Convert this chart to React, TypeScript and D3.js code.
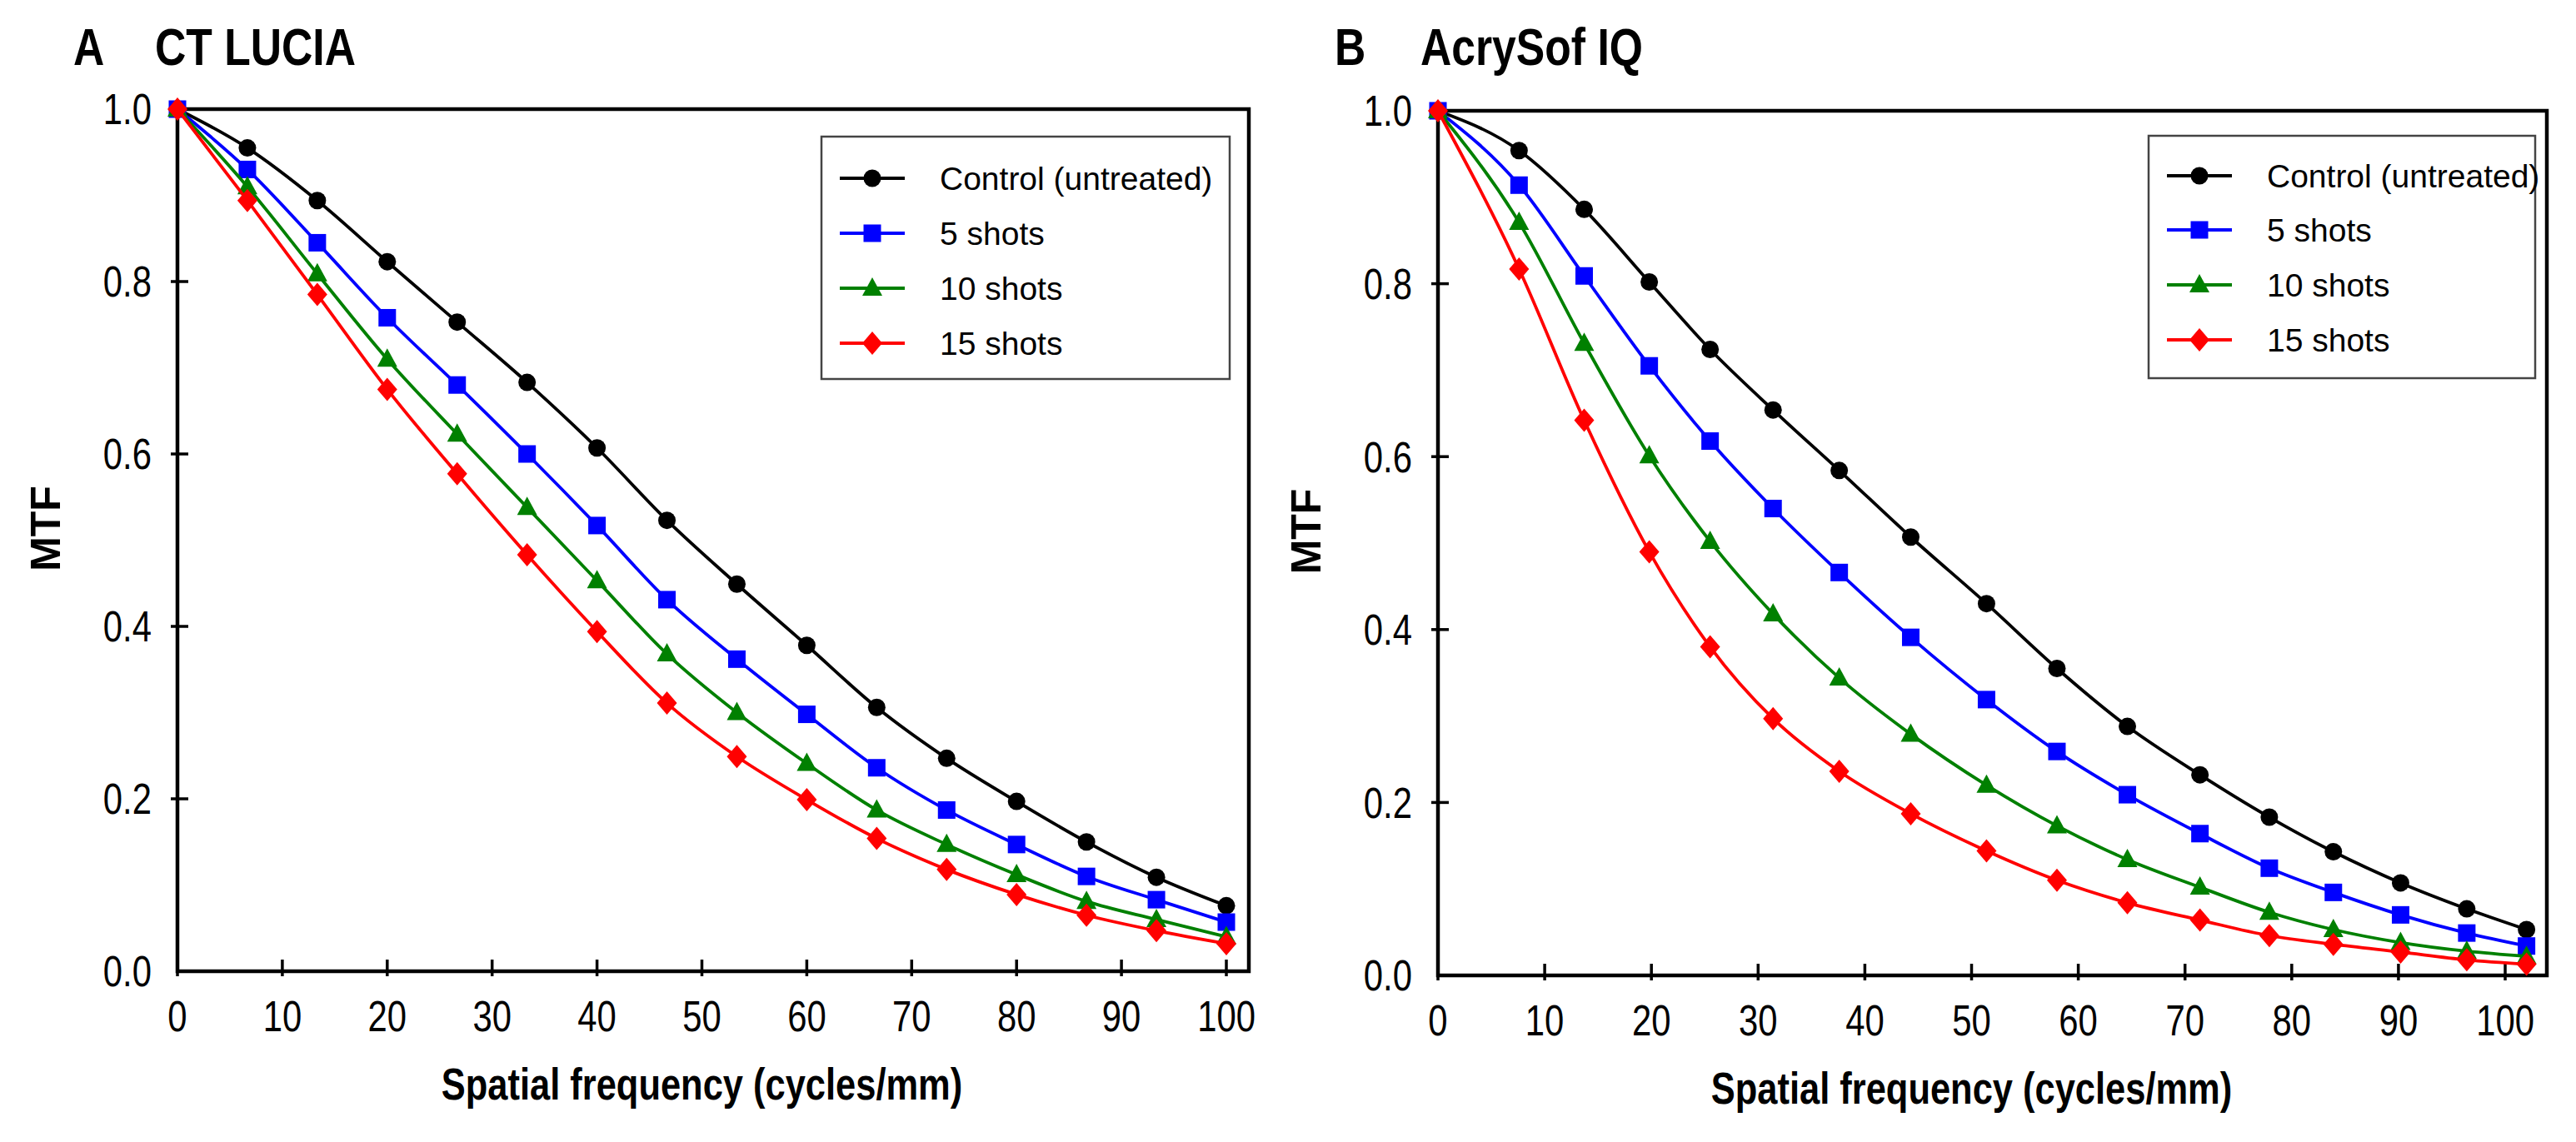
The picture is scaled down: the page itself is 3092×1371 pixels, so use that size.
import React from "react";
import * as d3 from "d3";

// spatial frequency sample points (cycles/mm)
const freqA = d3.range(16).map((i) => (i * 100) / 15);
const freqB = [0, 7.6, 13.7, 19.8, 25.5, 31.4, 37.6, 44.3, 51.4, 58.0, 64.6, 71.4, 77.9, 83.9, 90.2, 96.4, 102.0];

// Panel A: CT LUCIA
const luciaControl = [1.0, 0.955, 0.894, 0.823, 0.753, 0.683, 0.607, 0.523, 0.449, 0.378, 0.306, 0.247, 0.197, 0.15, 0.109, 0.076];
const lucia5 = [1.0, 0.93, 0.845, 0.758, 0.68, 0.6, 0.517, 0.431, 0.362, 0.298, 0.236, 0.187, 0.147, 0.11, 0.083, 0.057];
const lucia10 = [1.0, 0.91, 0.809, 0.71, 0.623, 0.538, 0.453, 0.368, 0.3, 0.241, 0.187, 0.147, 0.112, 0.081, 0.06, 0.04];
const lucia15 = [1.0, 0.894, 0.785, 0.675, 0.577, 0.483, 0.394, 0.311, 0.249, 0.199, 0.154, 0.118, 0.089, 0.065, 0.047, 0.032];

// Panel B: AcrySof IQ
const acryControl = [1.0, 0.954, 0.886, 0.802, 0.724, 0.654, 0.584, 0.507, 0.43, 0.355, 0.288, 0.232, 0.183, 0.143, 0.107, 0.077, 0.053];
const acry5 = [1.0, 0.914, 0.809, 0.705, 0.618, 0.54, 0.466, 0.391, 0.319, 0.259, 0.209, 0.164, 0.124, 0.096, 0.07, 0.049, 0.034];
const acry10 = [1.0, 0.871, 0.731, 0.601, 0.502, 0.418, 0.344, 0.279, 0.22, 0.173, 0.134, 0.102, 0.073, 0.053, 0.038, 0.028, 0.022];
const acry15 = [1.0, 0.817, 0.642, 0.49, 0.38, 0.297, 0.236, 0.187, 0.144, 0.11, 0.084, 0.064, 0.046, 0.036, 0.027, 0.018, 0.013];

const seriesNames = ["Control (untreated)", "5 shots", "10 shots", "15 shots"];
const seriesColors = ["#000000", "#0000ff", "#008000", "#ff0000"];
const seriesShapes = ["circle", "square", "triangle", "diamond"];

const xTicks = [0, 10, 20, 30, 40, 50, 60, 70, 80, 90, 100];
const yTicks = [0, 0.2, 0.4, 0.6, 0.8, 1.0];

const SANS = "'Liberation Sans', Arial, sans-serif";

// no narrow face installed: squeeze the regular one horizontally
function Narrow({
  x,
  y,
  size,
  bold,
  anchor,
  dy,
  children,
}: {
  x: number;
  y: number;
  size: number;
  bold?: boolean;
  anchor?: string;
  dy?: string;
  children: React.ReactNode;
}) {
  return (
    <g transform={`translate(${x},${y}) scale(0.82,1)`}>
      <text
        x={0}
        y={0}
        dy={dy}
        textAnchor={anchor || "start"}
        fontFamily={SANS}
        fontWeight={bold ? "bold" : "normal"}
        fontSize={size}
      >
        {children}
      </text>
    </g>
  );
}

function Marker({ shape, x, y, color }: { shape: string; x: number; y: number; color: string }) {
  if (shape === "circle") return <circle cx={x} cy={y} r={10.5} fill={color} />;
  if (shape === "square") return <rect x={x - 10.5} y={y - 10.5} width={21} height={21} fill={color} />;
  if (shape === "triangle")
    return <path d={`M${x},${y - 13} L${x + 12},${y + 9} L${x - 12},${y + 9}Z`} fill={color} />;
  return <path d={`M${x},${y - 14} L${x + 12},${y} L${x},${y + 14} L${x - 12},${y}Z`} fill={color} />;
}

interface PanelProps {
  letter: string;
  title: string;
  titleX: number;
  letterX: number;
  freq: number[];
  series: number[][];
  left: number;
  x100: number;
  right: number;
  top: number;
  bottom: number;
  legend: { x0: number; y0: number; x1: number; y1: number; rows: number[] };
}

function Panel(p: PanelProps) {
  const x = d3.scaleLinear().domain([0, 100]).range([p.left, p.x100]);
  const y = d3.scaleLinear().domain([0, 1]).range([p.bottom, p.top]);
  const line = d3
    .line<number>()
    .x((_, i) => x(p.freq[i]))
    .y((d) => y(d))
    .curve(d3.curveMonotoneX);
  const mid = (p.left + p.x100) / 2;
  const lx = p.legend.x0 + 22;
  return (
    <g>
      <Narrow x={p.letterX} y={78} size={63} bold>
        {p.letter}
      </Narrow>
      <Narrow x={p.titleX} y={78} size={63} bold>
        {p.title}
      </Narrow>

      {/* frame */}
      <rect
        x={p.left}
        y={p.top}
        width={p.right - p.left}
        height={p.bottom - p.top}
        fill="none"
        stroke="#000"
        strokeWidth={4.5}
      />

      {/* y ticks */}
      {yTicks.map((t) => (
        <g key={"y" + t}>
          {t > 0 && t < 1 && <line x1={p.left - 8} x2={p.left + 13} y1={y(t)} y2={y(t)} stroke="#000" strokeWidth={3.5} />}
          <Narrow x={p.left - 31} y={y(t)} dy="0.36em" anchor="end" size={51}>
            {t.toFixed(1)}
          </Narrow>
        </g>
      ))}

      {/* x ticks */}
      {xTicks.map((t) => (
        <g key={"x" + t}>
          <line x1={x(t)} x2={x(t)} y1={p.bottom + 6} y2={p.bottom - 14} stroke="#000" strokeWidth={3.5} />
          <Narrow x={x(t)} y={p.bottom + 72} anchor="middle" size={51}>
            {t}
          </Narrow>
        </g>
      ))}

      <Narrow x={mid} y={p.bottom + 154} anchor="middle" size={53} bold>
        Spatial frequency (cycles/mm)
      </Narrow>
      <text
        transform={`translate(${p.left - 141},${(p.top + p.bottom) / 2 - 14}) rotate(-90)`}
        textAnchor="middle"
        fontFamily={SANS}
        fontWeight="bold"
        fontSize={50}
      >
        MTF
      </text>

      {/* series */}
      {p.series.map((vals, si) => (
        <g key={"s" + si}>
          <path d={line(vals) || ""} fill="none" stroke={seriesColors[si]} strokeWidth={3.8} />
          {vals.map((v, i) => (
            <Marker key={i} shape={seriesShapes[si]} x={x(p.freq[i])} y={y(v)} color={seriesColors[si]} />
          ))}
        </g>
      ))}

      {/* legend */}
      <rect
        x={p.legend.x0}
        y={p.legend.y0}
        width={p.legend.x1 - p.legend.x0}
        height={p.legend.y1 - p.legend.y0}
        fill="#fff"
        stroke="#444"
        strokeWidth={2.5}
      />
      {seriesNames.map((name, si) => (
        <g key={"l" + si}>
          <line x1={lx} x2={lx + 78} y1={p.legend.rows[si]} y2={p.legend.rows[si]} stroke={seriesColors[si]} strokeWidth={4} />
          <Marker shape={seriesShapes[si]} x={lx + 39} y={p.legend.rows[si]} color={seriesColors[si]} />
          <text x={lx + 120} y={p.legend.rows[si]} dy="0.36em" fontFamily={SANS} fontSize={39}>
            {name}
          </text>
        </g>
      ))}
    </g>
  );
}

export default function App() {
  return (
    <svg
      width={3092}
      height={1371}
      style={{ position: "absolute", left: 0, top: 0, background: "#fff" }}
    >
      <Panel
        letter="A"
        title="CT LUCIA"
        letterX={88}
        titleX={186}
        freq={freqA}
        series={[luciaControl, lucia5, lucia10, lucia15]}
        left={213}
        x100={1472}
        right={1499}
        top={131}
        bottom={1166}
        legend={{ x0: 986, y0: 164, x1: 1476, y1: 455, rows: [214, 280, 346, 412] }}
      />
      <Panel
        letter="B"
        title="AcrySof IQ"
        letterX={1602}
        titleX={1705}
        freq={freqB}
        series={[acryControl, acry5, acry10, acry15]}
        left={1726}
        x100={3007}
        right={3057}
        top={133}
        bottom={1171}
        legend={{ x0: 2579, y0: 163, x1: 3043, y1: 454, rows: [211, 276, 342, 408] }}
      />
    </svg>
  );
}
